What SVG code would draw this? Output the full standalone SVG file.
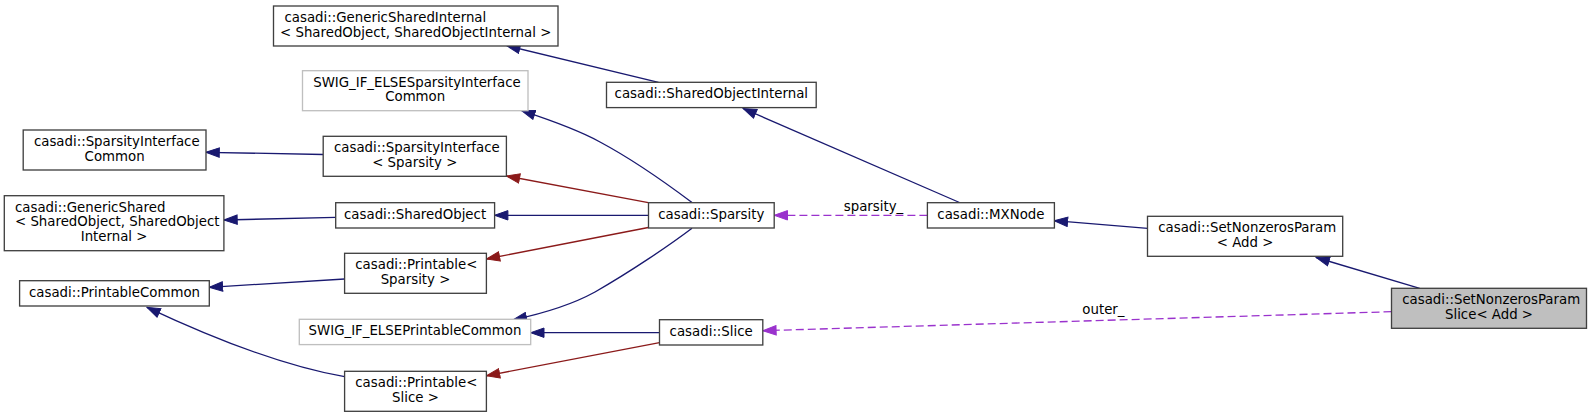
<svg xmlns="http://www.w3.org/2000/svg" width="1592" height="417" viewBox="0 0 1592 417">
<style>
  .n rect { fill: #ffffff; stroke: #404040; stroke-width: 1.33; }
  .g rect { fill: #ffffff; stroke: #bfbfbf; stroke-width: 1.33; }
  .cur rect { fill: #bfbfbf; stroke: #404040; stroke-width: 1.33; }
  text { font-family: "DejaVu Sans", "Liberation Sans", sans-serif; font-size: 13.33px; fill: #000000; }
  .m { text-anchor: middle; }
  .e { fill: none; stroke-width: 1.33; }
  .b { stroke: #191970; marker-end: url(#ab); }
  .r { stroke: #8b1a1a; marker-end: url(#ar); }
  .p { stroke: #9a32cd; stroke-dasharray: 8,4; marker-end: url(#ap); }
</style>
<defs>
  <marker id="ab" markerUnits="userSpaceOnUse" markerWidth="15" markerHeight="11" viewBox="0 0 15 11" refX="14" refY="5.5" orient="auto">
    <path d="M0.7,0.8 L14,5.5 L0.7,10.2 Z" fill="#191970" stroke="#191970" stroke-width="1"/>
  </marker>
  <marker id="ar" markerUnits="userSpaceOnUse" markerWidth="15" markerHeight="11" viewBox="0 0 15 11" refX="14" refY="5.5" orient="auto">
    <path d="M0.7,0.8 L14,5.5 L0.7,10.2 Z" fill="#8b1a1a" stroke="#8b1a1a" stroke-width="1"/>
  </marker>
  <marker id="ap" markerUnits="userSpaceOnUse" markerWidth="15" markerHeight="11" viewBox="0 0 15 11" refX="14" refY="5.5" orient="auto">
    <path d="M0.7,0.8 L14,5.5 L0.7,10.2 Z" fill="#9a32cd" stroke="#9a32cd" stroke-width="1"/>
  </marker>
</defs>
<rect x="0" y="0" width="1592" height="417" fill="#ffffff"/>

<g id="connectors">
  <path class="e b" d="M658.5,82.3 L506.7,45.7"/>
  <path class="e b" d="M692,202.5 C670,186 630,158 600,142 C580,131 556,122 521.7,110.7"/>
  <path class="e r" d="M648.3,202.7 L506.4,176"/>
  <path class="e b" d="M648.5,215.3 L494.6,215.3"/>
  <path class="e r" d="M648.3,227.5 L486.4,259"/>
  <path class="e b" d="M692,228.3 C670,245 630,272 595,292 C575,303 550,312 513.3,319.8"/>
  <path class="e b" d="M659.5,332.7 L530.7,332.7"/>
  <path class="e r" d="M659.5,342.7 L486.4,375.8"/>
  <path class="e b" d="M323.2,154.5 L206,152.3"/>
  <path class="e b" d="M335.7,217.3 L223.9,220"/>
  <path class="e b" d="M344.6,279 L209.3,287.3"/>
  <path class="e b" d="M344.6,376.7 C295,368 225,344 147,307.3"/>
  <path class="e b" d="M959.5,202.5 L743.2,108.5"/>
  <path class="e p" d="M927.4,215.3 L774.2,215.3"/>
  <text class="m" x="873.5" y="210.7">sparsity_</text>
  <path class="e b" d="M1147.7,228.3 L1054.3,220.7"/>
  <path class="e b" d="M1419.7,288.3 L1316.2,257.5"/>
  <path class="e p" d="M1391.5,311.7 L762.8,330.7"/>
  <text class="m" x="1103.4" y="314.3">outer_</text>
</g>

<g id="node_GenericSharedInternal" class="n">
  <rect x="273.5" y="6" width="284.5" height="40"/>
  <text x="284.5" y="22">casadi::GenericSharedInternal</text>
  <text class="m" x="415.7" y="36.7">&lt; SharedObject, SharedObjectInternal &gt;</text>
</g>
<g id="node_SWIG_SparsityInterfaceCommon" class="g">
  <rect x="302.5" y="70.7" width="225.5" height="40"/>
  <text x="313.2" y="86.7">SWIG_IF_ELSESparsityInterface</text>
  <text class="m" x="415.2" y="101.4">Common</text>
</g>
<g id="node_SparsityInterfaceCommon" class="n">
  <rect x="23.2" y="130" width="182.8" height="40"/>
  <text x="33.9" y="146">casadi::SparsityInterface</text>
  <text class="m" x="114.6" y="160.7">Common</text>
</g>
<g id="node_SparsityInterface_Sparsity" class="n">
  <rect x="323.2" y="136.3" width="183.2" height="40"/>
  <text x="334" y="152.3">casadi::SparsityInterface</text>
  <text class="m" x="414.8" y="167">&lt; Sparsity &gt;</text>
</g>
<g id="node_GenericShared" class="n">
  <rect x="4.3" y="195.7" width="219.6" height="55"/>
  <text x="15" y="211.7">casadi::GenericShared</text>
  <text x="15" y="226.4">&lt; SharedObject, SharedObject</text>
  <text class="m" x="114.1" y="241">Internal &gt;</text>
</g>
<g id="node_SharedObject" class="n">
  <rect x="335.7" y="202.7" width="158.9" height="25.3"/>
  <text class="m" x="415.1" y="218.7">casadi::SharedObject</text>
</g>
<g id="node_Printable_Sparsity" class="n">
  <rect x="344.6" y="253.3" width="141.8" height="40"/>
  <text x="355.3" y="269.3">casadi::Printable&lt;</text>
  <text class="m" x="415.5" y="284">Sparsity &gt;</text>
</g>
<g id="node_PrintableCommon" class="n">
  <rect x="19.6" y="280.7" width="189.7" height="25.3"/>
  <text class="m" x="114.5" y="296.7">casadi::PrintableCommon</text>
</g>
<g id="node_SWIG_PrintableCommon" class="g">
  <rect x="299.3" y="319.3" width="231.4" height="25.3"/>
  <text class="m" x="415" y="335.3">SWIG_IF_ELSEPrintableCommon</text>
</g>
<g id="node_Printable_Slice" class="n">
  <rect x="344.6" y="371.3" width="141.8" height="40"/>
  <text x="355.3" y="387.3">casadi::Printable&lt;</text>
  <text class="m" x="415.5" y="402">Slice &gt;</text>
</g>
<g id="node_SharedObjectInternal" class="n">
  <rect x="606.5" y="82.3" width="209.7" height="25.3"/>
  <text class="m" x="711.3" y="98.3">casadi::SharedObjectInternal</text>
</g>
<g id="node_Sparsity" class="n">
  <rect x="648.5" y="202.7" width="125.7" height="25.3"/>
  <text class="m" x="711.3" y="218.7">casadi::Sparsity</text>
</g>
<g id="node_Slice" class="n">
  <rect x="659.5" y="319.7" width="103.3" height="25.3"/>
  <text class="m" x="711.2" y="335.7">casadi::Slice</text>
</g>
<g id="node_MXNode" class="n">
  <rect x="927.4" y="202.7" width="127" height="25.3"/>
  <text class="m" x="990.9" y="218.7">casadi::MXNode</text>
</g>
<g id="node_SetNonzerosParam_Add" class="n">
  <rect x="1147.5" y="216.3" width="195.2" height="40"/>
  <text x="1158.2" y="232.3">casadi::SetNonzerosParam</text>
  <text class="m" x="1245.1" y="247">&lt; Add &gt;</text>
</g>
<g id="node_SetNonzerosParamSlice_Add" class="cur">
  <rect x="1391.5" y="288.3" width="195" height="40"/>
  <text x="1402.2" y="304.3">casadi::SetNonzerosParam</text>
  <text class="m" x="1489" y="319">Slice&lt; Add &gt;</text>
</g>
</svg>
